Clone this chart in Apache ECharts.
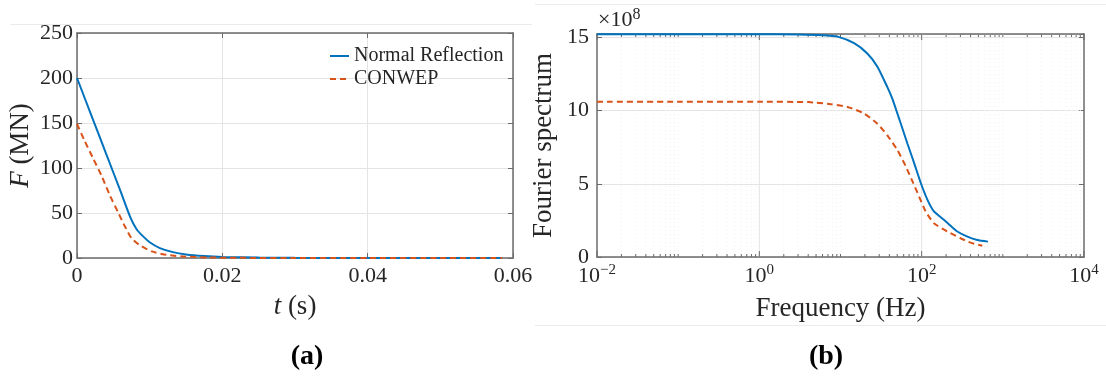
<!DOCTYPE html>
<html>
<head>
<meta charset="utf-8">
<script src="https://cdn.jsdelivr.net/npm/echarts@6/dist/echarts.min.js"></script>
<style>
  html, body { margin: 0; padding: 0; background: #fff; }
  #chart { width: 1106px; height: 376px; }
</style>
</head>
<body>
<div id="chart"></div>
<script>
// (a) force history: t in s, F in MN
const timeNormal = [0, 0.002, 0.004, 0.006, 0.0073, 0.0082, 0.0091, 0.010, 0.0114, 0.0132, 0.015, 0.0175, 0.020, 0.025, 0.030, 0.040, 0.050, 0.0585];
const forceNormal = [200, 158, 116, 74, 46, 32, 24, 17.5, 11, 6.5, 4, 2.2, 1.2, 0.5, 0.2, 0, 0, 0];
const timeConwep = [0, 0.001, 0.0022, 0.0034, 0.0045, 0.0057, 0.0066, 0.0075, 0.0086, 0.0103, 0.0123, 0.015, 0.018, 0.022, 0.030, 0.040, 0.050, 0.0585];
const forceConwep = [149, 131, 111, 91, 70, 50, 35, 22, 14.5, 7.3, 3.5, 1.5, 0.6, 0.2, 0, 0, 0, 0];

// (b) Fourier spectrum: frequency in Hz, amplitude in units of 1e8
const freqNormal = [0.01, 0.1, 1, 3, 6, 9.2, 14.7, 21.4, 28.5, 37.8, 43.6, 50.2, 55, 66.7, 80.4, 97.3, 117.5, 141.6, 188, 227.6, 275, 366, 485, 656];
const specNormal = [15.22, 15.22, 15.22, 15.2, 15.15, 15.05, 14.6, 13.9, 13.0, 11.6, 10.8, 9.8, 9.15, 7.75, 6.45, 5.07, 3.92, 3.11, 2.54, 2.13, 1.74, 1.39, 1.16, 1.05];
const freqConwep = [0.01, 0.1, 1, 4, 7.6, 12.2, 19.5, 28.5, 37.8, 50.2, 63.5, 76.8, 92.6, 112, 141.6, 207, 302, 401, 559];
const specConwep = [10.6, 10.6, 10.6, 10.58, 10.44, 10.25, 9.8, 9.1, 8.3, 7.3, 6.21, 5.18, 4.15, 3.11, 2.31, 1.74, 1.28, 0.98, 0.77];

// log axis: labelled decades and minor multipliers
const freqMajorTicks = [0.01, 1, 100, 10000];
const freqDecades = [-2, -1, 0, 1, 2, 3];
const freqMinorMult = [2, 3, 4, 5, 6, 7, 8, 9, 10];

const SERIF = 'Liberation Serif';
const TXT = '#262626';
const AXIS = '#6b6b6b';
const GRID = '#e4e4e4';
const BLUE = '#0072BD';
const ORANGE = '#D95319';

const zip = (xs, ys) => xs.map((x, i) => [x, ys[i]]);

// grid/tick positions for the log axis (major = 1, minor = 0)
const logGrid = freqMajorTicks.map(v => [v, 1]);
freqDecades.forEach(k => {
  freqMinorMult.forEach(m => {
    const v = m * Math.pow(10, k);
    if (!freqMajorTicks.some(t => Math.abs(t - v) / t < 1e-9)) logGrid.push([v, 0]);
  });
});

function renderLogGrid(params, api) {
  const cs = params.coordSys;
  const fv = api.value(0);
  const major = api.value(1) === 1;
  const x = api.coord([fv, 0])[0];
  const top = cs.y, bot = cs.y + cs.height;
  const len = major ? 6 : 3;
  const atEdge = fv <= 0.01 || fv >= 10000;
  const kids = [
    { type: 'line', shape: { x1: x, y1: bot, x2: x, y2: bot - len }, style: { stroke: AXIS, lineWidth: 1 } },
    { type: 'line', shape: { x1: x, y1: top, x2: x, y2: top + len }, style: { stroke: AXIS, lineWidth: 1 } }
  ];
  if (!atEdge) {
    kids.unshift({
      type: 'line',
      shape: { x1: x, y1: top, x2: x, y2: bot },
      style: major ? { stroke: GRID, lineWidth: 1 } : { stroke: '#efefef', lineWidth: 1, lineDash: [1, 3] }
    });
  }
  return { type: 'group', children: kids };
}

const tickFont = { fontFamily: SERIF, fontSize: 22, color: TXT };
const nameFont = { fontFamily: SERIF, fontSize: 27, color: TXT, rich: { i: { fontFamily: SERIF, fontSize: 27, fontStyle: 'italic', color: TXT } } };
const lineAxis = { onZero: false, lineStyle: { color: AXIS, width: 1.5 } };
const inTick = { show: true, inside: true, length: 5, lineStyle: { color: AXIS, width: 1 } };

function expLabel(v) {
  const e = Math.round(Math.log10(v));
  if (e % 2 !== 0) return '';
  return '10{sup|' + (e < 0 ? '\u2212' + (-e) : e) + '}';
}

const chart = echarts.init(document.getElementById('chart'), null, { renderer: 'canvas' });

const option = {
  animation: false,
  backgroundColor: '#fff',
  textStyle: { fontFamily: SERIF },
  grid: [
    { left: 77, top: 33, width: 436, height: 225 },
    { left: 597, top: 34, width: 487, height: 223 }
  ],
  legend: {
    data: ['Normal Reflection', 'CONWEP'],
    orient: 'vertical',
    left: 324,
    top: 41,
    itemWidth: 19,
    itemHeight: 12,
    itemGap: 3,
    align: 'left',
    itemStyle: { opacity: 0 },
    textStyle: { fontFamily: SERIF, fontSize: 20, color: TXT, lineHeight: 20 }
  },
  xAxis: [
    {
      gridIndex: 0, type: 'value', position: 'bottom', min: 0, max: 0.06, interval: 0.02,
      axisLine: lineAxis, axisTick: inTick,
      axisLabel: Object.assign({ margin: 7 }, tickFont),
      splitLine: { show: true, lineStyle: { color: GRID, width: 1 } },
      name: '{i|t} (s)', nameLocation: 'middle', nameGap: 35, nameTextStyle: nameFont
    },
    {
      gridIndex: 0, type: 'value', position: 'top', min: 0, max: 0.06, interval: 0.02,
      axisLine: lineAxis, axisTick: inTick, axisLabel: { show: false }, splitLine: { show: false }
    },
    {
      gridIndex: 1, type: 'log', logBase: 10, position: 'bottom', min: 0.01, max: 10000,
      axisLine: lineAxis, axisTick: { show: false },
      axisLabel: Object.assign({
        margin: 6, formatter: expLabel,
        rich: { sup: { fontFamily: SERIF, fontSize: 15, color: TXT, verticalAlign: 'top', padding: [0, 0, 12, 0] } }
      }, tickFont),
      splitLine: { show: false },
      name: 'Frequency (Hz)', nameLocation: 'middle', nameGap: 38, nameTextStyle: nameFont
    },
    {
      gridIndex: 1, type: 'log', logBase: 10, position: 'top', min: 0.01, max: 10000,
      axisLine: lineAxis, axisTick: { show: false }, axisLabel: { show: false }, splitLine: { show: false }
    }
  ],
  yAxis: [
    {
      gridIndex: 0, type: 'value', position: 'left', min: 0, max: 250, interval: 50,
      axisLine: lineAxis, axisTick: inTick,
      axisLabel: Object.assign({ margin: 4 }, tickFont),
      splitLine: { show: true, lineStyle: { color: GRID, width: 1 } },
      name: '{i|F} (MN)', nameLocation: 'middle', nameGap: 43, nameTextStyle: nameFont
    },
    {
      gridIndex: 0, type: 'value', position: 'right', min: 0, max: 250, interval: 50,
      axisLine: lineAxis, axisTick: inTick, axisLabel: { show: false }, splitLine: { show: false }
    },
    {
      gridIndex: 1, type: 'value', position: 'left', min: 0, max: 15.23, interval: 5,
      axisLine: lineAxis, axisTick: inTick,
      axisLabel: Object.assign({ margin: 8, formatter: v => (v % 5 === 0 ? String(v) : '') }, tickFont),
      splitLine: { show: true, lineStyle: { color: GRID, width: 1 } },
      name: 'Fourier spectrum', nameLocation: 'middle', nameGap: 40, nameTextStyle: nameFont
    },
    {
      gridIndex: 1, type: 'value', position: 'right', min: 0, max: 15.23, interval: 5,
      axisLine: lineAxis, axisTick: inTick, axisLabel: { show: false }, splitLine: { show: false }
    }
  ],
  graphic: [
    { type: 'line', shape: { x1: 10, y1: 24.5, x2: 532, y2: 24.5 }, style: { stroke: '#ebebeb', lineWidth: 1 }, silent: true },
    { type: 'line', shape: { x1: 535, y1: 4.5, x2: 1106, y2: 4.5 }, style: { stroke: '#ebebeb', lineWidth: 1 }, silent: true },
    { type: 'line', shape: { x1: 535, y1: 325.5, x2: 1106, y2: 325.5 }, style: { stroke: '#ebebeb', lineWidth: 1 }, silent: true },
    {
      type: 'text', left: 598, top: 7, silent: true,
      style: {
        text: '\u00d710{s|8}', fontFamily: SERIF, fontSize: 22, fill: TXT,
        rich: { s: { fontFamily: SERIF, fontSize: 16, fill: TXT, verticalAlign: 'top', padding: [0, 0, 10, 0] } }
      }
    },
    {
      type: 'text', x: 307, y: 357, silent: true,
      style: { text: '(a)', fontFamily: SERIF, fontSize: 28, fontWeight: 'bold', fill: '#000', align: 'center', verticalAlign: 'middle' }
    },
    {
      type: 'text', x: 826, y: 357, silent: true,
      style: { text: '(b)', fontFamily: SERIF, fontSize: 28, fontWeight: 'bold', fill: '#000', align: 'center', verticalAlign: 'middle' }
    }
  ],
  series: [
    {
      name: 'loggrid', type: 'custom', xAxisIndex: 2, yAxisIndex: 2, silent: true, z: 1,
      renderItem: renderLogGrid, data: logGrid
    },
    {
      name: 'Normal Reflection', type: 'line', xAxisIndex: 0, yAxisIndex: 0, z: 3,
      data: zip(timeNormal, forceNormal), symbol: 'none', smooth: 0.2,
      itemStyle: { color: BLUE }, lineStyle: { color: BLUE, width: 2 }
    },
    {
      name: 'CONWEP', type: 'line', xAxisIndex: 0, yAxisIndex: 0, z: 4,
      data: zip(timeConwep, forceConwep), symbol: 'none', smooth: 0.2,
      itemStyle: { color: ORANGE }, lineStyle: { color: ORANGE, width: 2, type: [6, 4] }
    },
    {
      name: 'Normal Reflection', type: 'line', xAxisIndex: 2, yAxisIndex: 2, z: 3, clip: false,
      data: zip(freqNormal, specNormal), symbol: 'none', smooth: 0.2,
      itemStyle: { color: BLUE }, lineStyle: { color: BLUE, width: 2 }
    },
    {
      name: 'CONWEP', type: 'line', xAxisIndex: 2, yAxisIndex: 2, z: 4,
      data: zip(freqConwep, specConwep), symbol: 'none', smooth: 0.2,
      itemStyle: { color: ORANGE }, lineStyle: { color: ORANGE, width: 2, type: [6, 4] }
    }
  ]
};

chart.setOption(option);
</script>
</body>
</html>
